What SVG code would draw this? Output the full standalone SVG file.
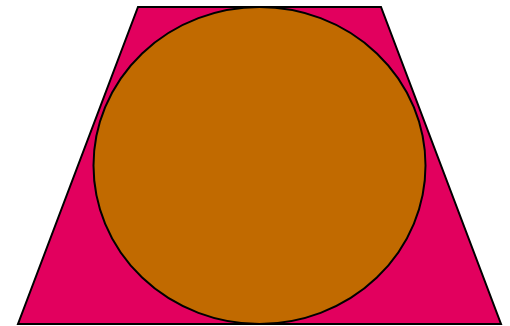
<svg xmlns="http://www.w3.org/2000/svg" width="510" height="326" viewBox="0 0 510 326">
<style>
.s{stroke:#000;stroke-width:2;stroke-linejoin:miter}
</style>
<rect width="510" height="326" fill="#fff"/>
<g id="trapezoid"><polygon class="s" points="138,7 381,7 501,324 18,324" fill="#e2005e"/></g>
<g id="ellipse"><ellipse class="s" cx="259.5" cy="165.5" rx="166" ry="158.5" fill="#c16a00"/></g>
</svg>
